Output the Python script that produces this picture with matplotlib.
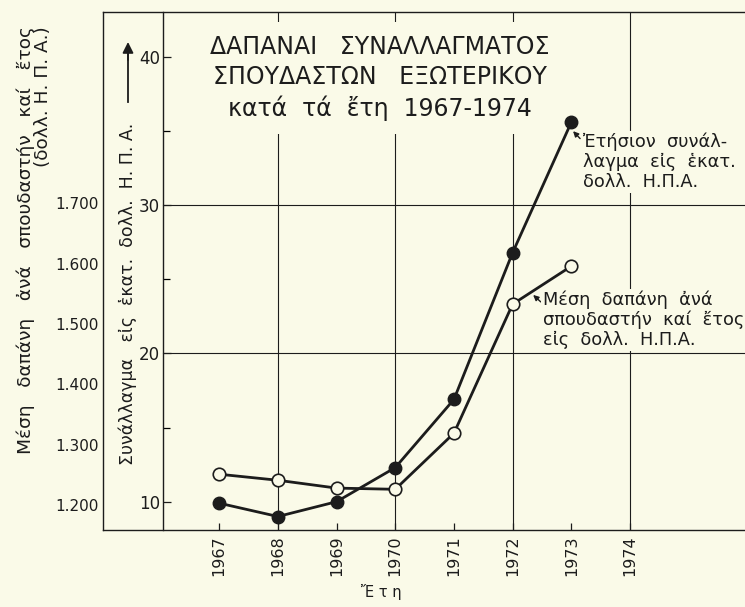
import matplotlib
matplotlib.use("Agg")
import matplotlib.pyplot as plt

# Years on the axis and years with data
years = [1967, 1968, 1969, 1970, 1971, 1972, 1973, 1974]
data_years = [1967, 1968, 1969, 1970, 1971, 1972, 1973]

# Annual exchange in million US dollars (inner axis, filled circles)
exchange = [9.9, 9.0, 10.0, 12.3, 16.9, 26.8, 35.6]
# Average cost per student and year in US dollars (outer axis, open circles)
cost_per_student = [1251, 1241, 1228, 1226, 1319, 1533, 1596]

outer_ticks = [1200, 1300, 1400, 1500, 1600, 1700]
inner_ticks = [10, 20, 30, 40]
inner_minor = [15, 25, 35]
grid_years = [1968, 1970, 1972, 1974]
grid_values = [20, 30]

title = "ΔΑΠΑΝΑΙ   ΣΥΝΑΛΛΑΓΜΑΤΟΣ\nΣΠΟΥΔΑΣΤΩΝ   ΕΞΩΤΕΡΙΚΟΥ\nκατά  τά  ἔτη  1967-1974"
outer_label = "Μέση   δαπάνη   ἀνά   σπουδαστήν   καί   ἔτος\n(δολλ. Η. Π. Α.)"
inner_label = "Συνάλλαγμα   εἰς  ἑκατ.  δολλ.  Η. Π. Α."
exchange_note = ["Ἐτήσιον  συνάλ-", "λαγμα  εἰς  ἑκατ.", "δολλ.  Η.Π.Α."]
cost_note = ["Μέση  δαπάνη  ἀνά", "σπουδαστήν  καί  ἔτος", "εἰς  δολλ.  Η.Π.Α."]
xlabel = "Ἔ τ η"

INK = "#1c1c1c"
PAPER = "#fafae8"

plt.rcParams["font.family"] = ["DejaVu Sans"]
plt.rcParams["text.color"] = INK

fig = plt.figure(figsize=(7.45, 6.07), dpi=100, facecolor=PAPER)
W, H = 745, 607
ax = fig.add_axes([103 / W, 1 - 530 / H, 642 / W, 518 / H])
ax.set_facecolor(PAPER)
ax2 = ax.twinx()

ax.set_xlim(1965.02, 1975.96)
ax.set_ylim(1158.5, 2017.6)
ax2.set_ylim(8.09, 43.04)

# frame: outer left, top and bottom lines, open on the right
ax.spines["right"].set_visible(False)
for side in ["left", "top", "bottom"]:
  ax.spines[side].set_color(INK)
  ax.spines[side].set_linewidth(1.0)
for side in ["right", "top", "bottom"]:
  ax2.spines[side].set_visible(False)
inner_pos = 60 / 642
ax2.spines["left"].set_visible(True)
ax2.spines["left"].set_position(("axes", inner_pos))
ax2.spines["left"].set_color(INK)
ax2.spines["left"].set_linewidth(1.0)
ax2.yaxis.tick_left()

# x axis
ax.set_xticks(years)
ax.set_xticklabels([str(y) for y in years], rotation=90, fontsize=11.5)
ax.tick_params(axis="x", direction="in", length=5, width=0.9, pad=4, colors=INK)

# outer y axis (dollars per student)
ax.set_yticks(outer_ticks)
ax.set_yticklabels([f"{v // 1000}.{v % 1000:03d}" for v in outer_ticks], fontsize=11)
ax.tick_params(axis="y", length=0, pad=3, colors=INK)

# inner y axis (million dollars)
ax2.set_yticks(inner_ticks)
ax2.set_yticks(inner_minor, minor=True)
ax2.set_yticklabels([str(v) for v in inner_ticks], fontsize=12)
ax2.tick_params(axis="y", which="major", direction="in", length=6, width=0.9,
                pad=2, colors=INK)
ax2.tick_params(axis="y", which="minor", direction="in", length=5, width=0.9)

# grid
for yr in grid_years:
  ax.axvline(yr, color=INK, lw=0.8, zorder=1)
for v in grid_values:
  ax2.axhline(v, xmin=inner_pos, xmax=1, color=INK, lw=0.8, zorder=1)

# the two series
ax.plot(data_years, cost_per_student, color=INK, lw=2.0, marker="o",
        markersize=9, markerfacecolor=PAPER, markeredgecolor=INK,
        markeredgewidth=1.2, zorder=3)
ax2.plot(data_years, exchange, color=INK, lw=2.0, marker="o",
         markersize=9, markerfacecolor=INK, markeredgecolor=INK, zorder=3)

mask = dict(boxstyle="square,pad=0.1", facecolor=PAPER, edgecolor="none")

# title block covers the grid lines behind it
fig.text(380 / W, 1 - 78 / H, title, ha="center", va="center", fontsize=17,
         linespacing=1.3, zorder=5,
         bbox=dict(boxstyle="square,pad=0.55", facecolor=PAPER, edgecolor="none"))

# notes beside the lines
for i, line in enumerate(exchange_note):
  ax2.annotate(line, xy=(1973.2, 34.28), xytext=(0, -14.4 * i),
               textcoords="offset points", ha="left", va="center",
               fontsize=12.8, zorder=5, bbox=mask)
ax2.annotate("", xy=(1973.03, 35.0), xytext=(1973.15, 34.5),
             arrowprops=dict(arrowstyle="-|>", color=INK, lw=1.0,
                             mutation_scale=8, shrinkA=0, shrinkB=0))
for i, line in enumerate(cost_note):
  ax2.annotate(line, xy=(1972.52, 23.61), xytext=(0, -14.4 * i),
               textcoords="offset points", ha="left", va="center",
               fontsize=12.8, zorder=5, bbox=mask)
ax2.annotate("", xy=(1972.35, 23.95), xytext=(1972.48, 23.48),
             arrowprops=dict(arrowstyle="-|>", color=INK, lw=1.0,
                             mutation_scale=8, shrinkA=0, shrinkB=0))

# axis titles
fig.text(34 / W, 1 - 26 / H, outer_label, rotation=90, ha="center", va="top",
         multialignment="right", fontsize=13.3, linespacing=0.95)
fig.text(128 / W, 1 - 465 / H, inner_label, rotation=90, ha="center",
         va="bottom", fontsize=12.5)
fig.add_artist(plt.Line2D([128 / W, 128 / W], [1 - 102 / H, 1 - 52 / H],
                          color=INK, lw=1.3))
ax.annotate("", xy=(128 / W, 1 - 42 / H), xytext=(128 / W, 1 - 60 / H),
            xycoords="figure fraction",
            arrowprops=dict(arrowstyle="-|>", color=INK, lw=1.3,
                            mutation_scale=16, shrinkA=0, shrinkB=0))
fig.text(381 / W, 1 - 592 / H, xlabel, ha="center", va="center", fontsize=10.5)

fig.savefig("out.png", dpi=100, facecolor=PAPER)
